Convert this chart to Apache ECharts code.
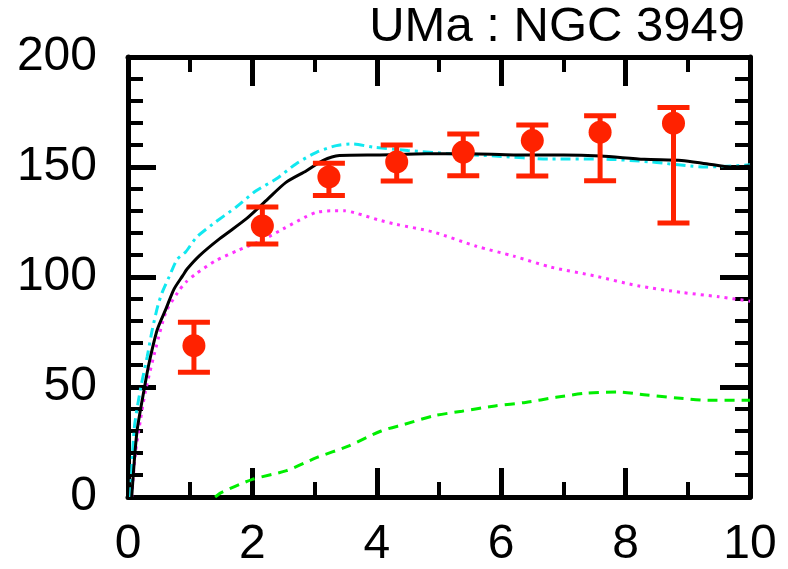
<!DOCTYPE html>
<html><head><meta charset="utf-8">
<script src="https://cdn.jsdelivr.net/npm/echarts@6/dist/echarts.min.js"></script>
<style>html,body{margin:0;padding:0;background:#fff}#c{width:788px;height:569px}</style>
</head><body><div id="c"></div>
<script>
// ---- data ----
const titleText = "UMa : NGC 3949";
const xTicks = [0, 2, 4, 6, 8, 10];
const yTicks = [0, 50, 100, 150, 200];

// observed rotation velocities with error bars
const xObs  = [1.06, 2.16, 3.23, 4.32, 5.39, 6.50, 7.59, 8.77];
const vObs  = [68.8, 123.2, 145.5, 152.3, 156.8, 162.0, 165.8, 169.9];
const vLow  = [56.7, 115.0, 137.0, 143.6, 146.0, 145.9, 143.8, 124.5];
const vHigh = [79.4, 131.8, 151.7, 160.0, 165.0, 169.1, 173.3, 177.1];

// total model (black solid)
const rTotal = [0.06, 0.1, 0.15, 0.26, 0.34, 0.47, 0.61, 0.74, 0.88, 0.95, 1.15, 1.47, 1.9, 2.22, 2.54, 2.87, 3.13, 3.4, 4.05, 4.8, 5.5, 6.2, 7.0, 7.6, 8.3, 8.9, 9.3, 9.7, 10];
const vTotal = [0, 16, 31, 49, 61, 76, 85.5, 94.5, 100.6, 103.6, 109.7, 117.3, 126.4, 134.7, 143, 148.3, 152.9, 155.2, 155.5, 156, 156, 155.5, 155.5, 155, 153.5, 153, 151.5, 150, 150.5];

// cyan dash-dot curve
const rCyan = [0.04, 0.1, 0.2, 0.31, 0.39, 0.48, 0.55, 0.66, 0.79, 0.93, 1.1, 1.36, 1.74, 2.06, 2.38, 2.7, 3.03, 3.35, 3.61, 3.94, 4.5, 5.2, 5.9, 6.8, 7.6, 8.4, 9.3, 10];
const vCyan = [0, 31, 49, 64, 76, 87, 93, 100, 108, 111.5, 118, 124, 131.8, 139.2, 144.5, 151.4, 156.7, 159.7, 160.5, 159, 157.5, 156, 155, 153.6, 153.6, 152.3, 150, 151];

// magenta dotted curve
const rMag = [0.06, 0.12, 0.2, 0.28, 0.45, 0.61, 0.8, 0.93, 1.09, 1.41, 1.76, 2.14, 2.49, 2.84, 3.03, 3.27, 3.48, 3.67, 4.02, 4.3, 4.9, 5.6, 6.2, 6.8, 7.5, 8.2, 8.9, 9.5, 10];
const vMag = [0, 20, 35, 48, 68, 84, 93, 97.6, 101.4, 107.4, 112, 116.5, 121.8, 127.1, 129.4, 130.1, 130.1, 129, 126, 124, 120.5, 114, 109.5, 104.5, 100.5, 96, 93, 91, 89];

// green dashed curve
const rGreen = [1.4, 1.5, 2.0, 2.55, 3.04, 3.53, 4.07, 4.44, 4.93, 5.37, 5.9, 6.39, 6.88, 7.37, 7.86, 8.34, 8.83, 9.32, 9.87, 10];
const vGreen = [0, 2, 8, 12, 18, 23, 30, 33, 37, 39, 41.4, 43, 45.3, 47.2, 47.7, 46.4, 45, 44, 44, 44];

const pairs = (xs, ys) => xs.map((x, i) => [x, ys[i]]);
const FONT = '"Liberation Sans", Arial, sans-serif';
const RED = '#ff2200';

const chart = echarts.init(document.getElementById('c'), null, {renderer: 'canvas'});

const tickCommon = (len) => ({show: true, inside: true, length: len, lineStyle: {color: '#000', width: 5}});
const minorCommon = (split) => ({show: true, splitNumber: split, length: 15, lineStyle: {color: '#000', width: 4}});

chart.setOption({
  animation: false,
  backgroundColor: '#fff',
  grid: {left: 128, right: 38, top: 57, bottom: 71, containLabel: false},
  graphic: [{
    type: 'text', right: 43, top: 3,
    style: {text: titleText, font: '49px ' + FONT, fill: '#000'}
  }],
  xAxis: [{
    type: 'value', min: 0, max: 10, interval: 2, position: 'bottom',
    axisLine: {show: true, onZero: false, lineStyle: {color: '#000', width: 5}},
    axisTick: tickCommon(29), minorTick: minorCommon(2),
    splitLine: {show: false},
    axisLabel: {show: true, margin: 24, fontSize: 48, fontFamily: FONT, color: '#000',
      formatter: v => xTicks.includes(v) ? String(v) : ''}
  }, {
    type: 'value', min: 0, max: 10, interval: 2, position: 'top',
    axisLine: {show: true, onZero: false, lineStyle: {color: '#000', width: 5}},
    axisTick: tickCommon(29), minorTick: minorCommon(2),
    splitLine: {show: false}, axisLabel: {show: false}
  }],
  yAxis: [{
    type: 'value', min: 0, max: 200, interval: 50, position: 'left',
    axisLine: {show: true, onZero: false, lineStyle: {color: '#000', width: 5}},
    axisTick: tickCommon(28), minorTick: minorCommon(5),
    splitLine: {show: false},
    axisLabel: {show: true, margin: 31, fontSize: 48, fontFamily: FONT, color: '#000',
      formatter: v => yTicks.includes(v) ? String(v) : ''}
  }, {
    type: 'value', min: 0, max: 200, interval: 50, position: 'right',
    axisLine: {show: true, onZero: false, lineStyle: {color: '#000', width: 5}},
    axisTick: tickCommon(30), minorTick: minorCommon(5),
    splitLine: {show: false}, axisLabel: {show: false}
  }],
  series: [
    {type: 'line', data: pairs(rGreen, vGreen), showSymbol: false, smooth: 0.25, clip: true,
      lineStyle: {color: '#00ee00', width: 3, type: [10, 7]}, z: 2},
    {type: 'line', data: pairs(rMag, vMag), showSymbol: false, smooth: 0.25, clip: true,
      lineStyle: {color: '#ff33ff', width: 3, type: [3, 5]}, z: 2},
    {type: 'line', data: pairs(rCyan, vCyan), showSymbol: false, smooth: 0.25, clip: true,
      lineStyle: {color: '#11e8f0', width: 3, type: [10, 5, 3, 5]}, z: 3},
    {type: 'line', data: pairs(rTotal, vTotal), showSymbol: false, smooth: 0.25, clip: true,
      lineStyle: {color: '#000', width: 3, type: 'solid'}, z: 4},
    {type: 'custom', z: 5,
      data: xObs.map((x, i) => [x, vObs[i], vLow[i], vHigh[i]]),
      renderItem: function (params, api) {
        const lo = api.coord([api.value(0), api.value(2)]);
        const hi = api.coord([api.value(0), api.value(3)]);
        const hw = 16;
        const st = {stroke: RED, lineWidth: 5};
        return {type: 'group', children: [
          {type: 'line', shape: {x1: lo[0], y1: lo[1], x2: hi[0], y2: hi[1]}, style: st},
          {type: 'line', shape: {x1: lo[0] - hw, y1: lo[1], x2: lo[0] + hw, y2: lo[1]}, style: st},
          {type: 'line', shape: {x1: hi[0] - hw, y1: hi[1], x2: hi[0] + hw, y2: hi[1]}, style: st}
        ]};
      }
    },
    {type: 'scatter', data: pairs(xObs, vObs), symbol: 'circle', symbolSize: 23,
      itemStyle: {color: RED, opacity: 1}, z: 6}
  ]
});
</script>
</body></html>
